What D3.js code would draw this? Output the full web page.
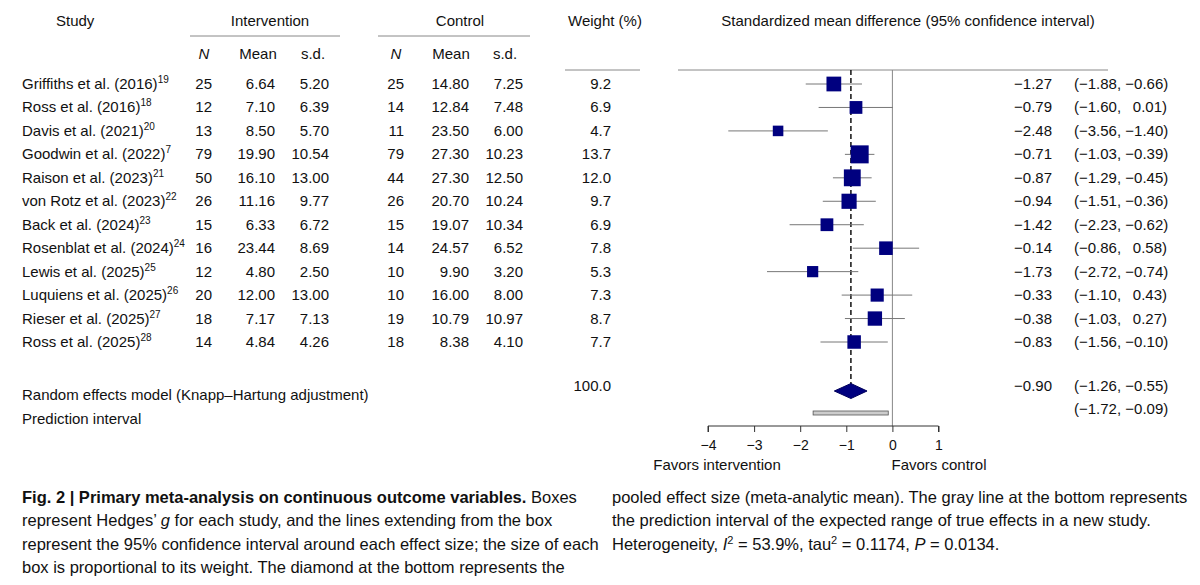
<!DOCTYPE html>
<html><head><meta charset="utf-8">
<script src="https://cdn.jsdelivr.net/npm/d3@7"></script>
<style>
body{margin:0;background:#fff}
svg text{font-family:"Liberation Sans",Arial,sans-serif;fill:#111}
.cap{font-family:"Liberation Sans Narrow","Liberation Sans",sans-serif;font-size:16.5px;fill:#111}
</style></head><body>
<svg id="chart" width="1200" height="585"></svg>
<script>
// study data
const studies = ["Griffiths et al. (2016)","Ross et al. (2016)","Davis et al. (2021)","Goodwin et al. (2022)","Raison et al. (2023)","von Rotz et al. (2023)","Back et al. (2024)","Rosenblat et al. (2024)","Lewis et al. (2025)","Luquiens et al. (2025)","Rieser et al. (2025)","Ross et al. (2025)"];
const refs = ["19","18","20","7","21","22","23","24","25","26","27","28"];
const nInt = [25,12,13,79,50,26,15,16,12,20,18,14];
const meanInt = ["6.64","7.10","8.50","19.90","16.10","11.16","6.33","23.44","4.80","12.00","7.17","4.84"];
const sdInt = ["5.20","6.39","5.70","10.54","13.00","9.77","6.72","8.69","2.50","13.00","7.13","4.26"];
const nCtl = [25,14,11,79,44,26,15,14,10,10,19,18];
const meanCtl = ["14.80","12.84","23.50","27.30","27.30","20.70","19.07","24.57","9.90","16.00","10.79","8.38"];
const sdCtl = ["7.25","7.48","6.00","10.23","12.50","10.24","10.34","6.52","3.20","8.00","10.97","4.10"];
const weight = [9.2,6.9,4.7,13.7,12.0,9.7,6.9,7.8,5.3,7.3,8.7,7.7];
const smd = [-1.27,-0.79,-2.48,-0.71,-0.87,-0.94,-1.42,-0.14,-1.73,-0.33,-0.38,-0.83];
const lo = [-1.88,-1.60,-3.56,-1.03,-1.29,-1.51,-2.23,-0.86,-2.72,-1.10,-1.03,-1.56];
const hi = [-0.66,0.01,-1.40,-0.39,-0.45,-0.36,-0.62,0.58,-0.74,0.43,0.27,-0.10];
const pooled = {est:-0.90, lo:-1.26, hi:-0.55};
const pred = {lo:-1.72, hi:-0.09};
const xTicks = [-4,-3,-2,-1,0,1];

const svg = d3.select("#chart");
const x = d3.scaleLinear().domain([-4,1]).range([708,938.5]);
const y = d3.scaleLinear().domain([0,11]).range([84,342]);
const side = d3.scaleSqrt().domain([0,13.7]).range([0,18]);
const fmt = v => (v<0?"\u2212":"")+Math.abs(v).toFixed(2);
const ci = (a,b) => "(" + fmt(a) + "," + (b>=0?"\u2002\u00a0":"\u00a0") + fmt(b) + ")";

// headers
const hdr = svg.append("g").style("font-size","15px");
hdr.append("text").attr("x",56).attr("y",26).text("Study");
hdr.append("text").attr("x",270).attr("y",26).attr("text-anchor","middle").text("Intervention");
hdr.append("text").attr("x",460).attr("y",26).attr("text-anchor","middle").text("Control");
hdr.append("text").attr("x",605).attr("y",26).attr("text-anchor","middle").text("Weight (%)");
hdr.append("text").attr("x",908).attr("y",26).attr("text-anchor","middle").text("Standardized mean difference (95% confidence interval)");
[[204,"N",true],[258,"Mean"],[313,"s.d."],[396,"N",true],[451,"Mean"],[505,"s.d."]].forEach(d=>{
  hdr.append("text").attr("x",d[0]).attr("y",59).attr("text-anchor","middle")
    .style("font-style",d[2]?"italic":null).text(d[1]);
});
[[190,340,36],[378,530,36],[565,640,70],[678,1108,70]].forEach(d=>{
  svg.append("line").attr("x1",d[0]).attr("x2",d[1]).attr("y1",d[2]).attr("y2",d[2])
    .attr("stroke","#888").attr("stroke-width",1);
});

// table rows
const rows = svg.append("g").selectAll("g").data(studies).join("g")
  .attr("transform",(d,i)=>`translate(0,${y(i)+5})`).style("font-size","15px");
rows.append("text").attr("x",22).each(function(d,i){
  const t = d3.select(this);
  t.append("tspan").text(d);
  t.append("tspan").attr("dy",-6).style("font-size","10px").text(refs[i]);
});
const col = (xp,arr,anchor) => rows.append("text").attr("x",xp).attr("text-anchor",anchor||"end").text((d,i)=>arr[i]);
col(212,nInt); col(275,meanInt); col(329,sdInt);
col(404,nCtl); col(469,meanCtl); col(523,sdCtl);
col(611,weight.map(w=>w.toFixed(1)));
col(1052,smd.map(fmt));
col(1074,lo.map((a,i)=>ci(a,hi[i])),"start");

// reference lines
svg.append("line").attr("x1",x(0)).attr("x2",x(0)).attr("y1",70).attr("y2",426).attr("stroke","#888");
svg.append("line").attr("x1",x(pooled.est)).attr("x2",x(pooled.est)).attr("y1",70).attr("y2",384)
  .attr("stroke","#000").attr("stroke-width",1.4).attr("stroke-dasharray","5,3");

// CIs and boxes
const fp = svg.append("g");
fp.selectAll("line.ci").data(smd).join("line")
  .attr("x1",(d,i)=>x(lo[i])).attr("x2",(d,i)=>x(hi[i]))
  .attr("y1",(d,i)=>y(i)).attr("y2",(d,i)=>y(i)).attr("stroke","#777").attr("stroke-width",1);
fp.selectAll("rect").data(smd).join("rect")
  .attr("x",(d,i)=>x(d)-side(weight[i])/2).attr("y",(d,i)=>y(i)-side(weight[i])/2)
  .attr("width",(d,i)=>side(weight[i])).attr("height",(d,i)=>side(weight[i]))
  .attr("fill","#00007f");

// pooled
const yp = 391;
svg.append("path").attr("d",`M${x(pooled.lo)},${yp}L${x(pooled.est)},${yp-7.5}L${x(pooled.hi)},${yp}L${x(pooled.est)},${yp+7.5}Z`)
  .attr("fill","#00007f").attr("stroke","#00005a");
svg.append("rect").attr("x",x(pred.lo)).attr("y",411).attr("width",x(pred.hi)-x(pred.lo)).attr("height",4)
  .attr("fill","#ccc").attr("stroke","#555").attr("stroke-width",0.8);

const f15 = svg.append("g").style("font-size","15px");
f15.append("text").attr("x",22).attr("y",yp+9).text("Random effects model (Knapp\u2013Hartung adjustment)");
f15.append("text").attr("x",22).attr("y",424).text("Prediction interval");
f15.append("text").attr("x",611).attr("y",yp).attr("text-anchor","end").text("100.0");
f15.append("text").attr("x",1052).attr("y",yp).attr("text-anchor","end").text(fmt(pooled.est));
f15.append("text").attr("x",1074).attr("y",yp).text(ci(pooled.lo,pooled.hi));
f15.append("text").attr("x",1074).attr("y",414).text(ci(pred.lo,pred.hi));

// axis
const ax = svg.append("g").attr("transform","translate(0,426)")
  .call(d3.axisBottom(x).tickValues(xTicks).tickSize(6).tickFormat(d=>d<0?"\u2212"+(-d):d));
ax.select(".domain").attr("d",`M${x(-4)},6V0H${x(1)}V6`).attr("stroke","#333");
ax.selectAll(".tick line").attr("stroke","#333");
ax.selectAll("text").style("font-size","14px").attr("fill","#111").attr("dy","1.05em");
f15.append("text").attr("x",717).attr("y",470).attr("text-anchor","middle").text("Favors intervention");
f15.append("text").attr("x",939).attr("y",470).attr("text-anchor","middle").text("Favors control");

// caption
const capL = [
  [["Fig. 2 | Primary meta-analysis on continuous outcome variables.",true],[" Boxes",false]],
  [["represent Hedges\u2019 ",false],["g",false,true],[" for each study, and the lines extending from the box",false]],
  [["represent the 95% confidence interval around each effect size; the size of each",false]],
  [["box is proportional to its weight. The diamond at the bottom represents the",false]]
];
const capR = [
  [["pooled effect size (meta-analytic mean). The gray line at the bottom represents",false]],
  [["the prediction interval of the expected range of true effects in a new study.",false]],
  [["Heterogeneity, ",false],["I",false,true],["2",false,false,true],[" = 53.9%, tau",false],["2",false,false,true],[" = 0.1174, ",false],["P",false,true],[" = 0.0134.",false]]
];
function caption(lines,x0){
  lines.forEach((ln,i)=>{
    const t = svg.append("text").attr("class","cap").attr("x",x0).attr("y",503+i*23.3);
    ln.forEach(s=>{
      const ts = t.append("tspan").text(s[0]);
      if(s[1]) ts.style("font-weight","bold");
      if(s[2]) ts.style("font-style","italic");
      if(s[3]) ts.attr("dy",-6).style("font-size","11px");
      else if(t.node().dataset.up){ts.attr("dy",6);}
      t.node().dataset.up = s[3]?"1":"";
    });
  });
}
caption(capL,22); caption(capR,612);
</script></body></html>
